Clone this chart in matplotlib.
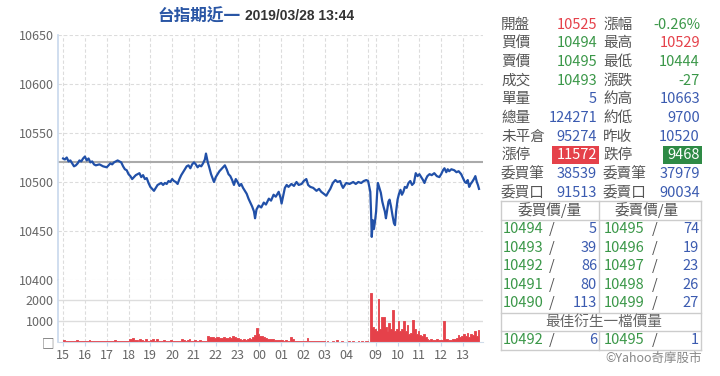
import matplotlib
matplotlib.use("Agg")
import matplotlib.pyplot as plt
from matplotlib.patches import Rectangle
from matplotlib.lines import Line2D

plt.rcParams['font.family'] = ['Noto Sans CJK TC', 'DejaVu Sans']

# ---- data ----
price_times = [
    "15:00", "15:05", "15:10", "15:15", "15:20", "15:25", "15:30", "15:35", "15:40", "15:45",
    "15:50", "15:55", "16:00", "16:05", "16:10", "16:15", "16:20", "16:25", "16:30", "16:40",
    "16:50", "17:00", "17:05", "17:10", "17:15", "17:20", "17:25", "17:30", "17:35", "17:40",
    "17:45", "17:50", "17:55", "18:00", "18:05", "18:10", "18:15", "18:20", "18:25", "18:30",
    "18:35", "18:40", "18:45", "18:50", "18:55", "19:00", "19:05", "19:10", "19:15", "19:20",
    "19:25", "19:30", "19:35", "19:40", "19:45", "19:50", "19:55", "20:00", "20:05", "20:10",
    "20:15", "20:20", "20:25", "20:30", "20:35", "20:40", "20:45", "20:50", "20:55", "21:00",
    "21:05", "21:10", "21:15", "21:20", "21:25", "21:30", "21:33", "21:38", "21:42", "21:47",
    "21:52", "21:55", "22:00", "22:05", "22:10", "22:15", "22:20", "22:25", "22:30", "22:35",
    "22:40", "22:45", "22:50", "22:55", "23:00", "23:05", "23:10", "23:15", "23:20", "23:25",
    "23:30", "23:35", "23:40", "23:45", "23:48", "23:52", "23:58", "00:05", "00:12", "00:18",
    "00:26", "00:32", "00:39", "00:45", "00:53", "00:58", "01:01", "01:06", "01:10", "01:15",
    "01:20", "01:28", "01:35", "01:42", "01:48", "01:56", "02:02", "02:09", "02:14", "02:20",
    "02:28", "02:37", "02:44", "02:50", "02:57", "03:04", "03:10", "03:15", "03:22", "03:29",
    "03:35", "03:42", "03:46", "03:50", "03:55", "03:59", "04:08", "04:18", "04:25", "04:32",
    "04:40", "04:47", "04:54", "04:59",
    "08:45", "08:47", "08:49", "08:52", "08:55", "08:58", "09:01", "09:04", "09:06", "09:10",
    "09:14", "09:18", "09:22", "09:25", "09:28", "09:31", "09:35", "09:38", "09:42", "09:46",
    "09:50", "09:53", "09:56", "10:00", "10:04", "10:08", "10:12", "10:16", "10:20", "10:25",
    "10:30", "10:35", "10:40", "10:45", "10:50", "10:55", "11:00", "11:05", "11:10", "11:14",
    "11:18", "11:22", "11:28", "11:34", "11:41", "11:48", "11:55", "12:00", "12:05", "12:09",
    "12:14", "12:18", "12:22", "12:28", "12:36", "12:42", "12:48", "12:55", "13:00", "13:05",
    "13:09", "13:13", "13:17", "13:21", "13:25", "13:30", "13:34", "13:38", "13:41", "13:44",
]
price_values = [
    10524, 10523, 10525, 10521, 10522, 10519, 10516, 10517, 10519, 10522,
    10521, 10524, 10526, 10522, 10524, 10520, 10521, 10518, 10517, 10518,
    10516, 10515, 10517, 10519, 10518, 10520, 10521, 10522, 10521, 10520,
    10516, 10513, 10512, 10508, 10506, 10503, 10505, 10507, 10508, 10509,
    10505, 10507, 10503, 10504, 10499, 10495, 10493, 10491, 10494, 10497,
    10498, 10499, 10497, 10499, 10498, 10501, 10500, 10503, 10501, 10500,
    10498, 10503, 10507, 10510, 10513, 10516, 10517, 10514, 10518, 10520,
    10518, 10515, 10517, 10516, 10519, 10523, 10529, 10520, 10515, 10508,
    10503, 10500, 10505, 10508, 10511, 10513, 10515, 10517, 10513, 10508,
    10506, 10502, 10497, 10503, 10500, 10496, 10498, 10494, 10491, 10488,
    10483, 10479, 10475, 10470, 10463, 10472, 10476, 10474, 10479, 10477,
    10483, 10481, 10487, 10485, 10490, 10484, 10478, 10487, 10494, 10497,
    10495, 10498, 10496, 10500, 10497, 10498, 10501, 10503, 10497, 10495,
    10494, 10491, 10493, 10490, 10488, 10486, 10490, 10493, 10499, 10502,
    10500, 10501, 10497, 10494, 10497, 10499, 10498, 10500, 10498, 10500,
    10499, 10501, 10502, 10501,
    10490, 10470, 10444, 10461, 10452, 10460, 10470, 10490, 10499, 10494,
    10489, 10480, 10474, 10470, 10463, 10470, 10480, 10482, 10475, 10466,
    10458, 10456, 10470, 10482, 10488, 10492, 10487, 10490, 10495, 10494,
    10499, 10501, 10497, 10499, 10509, 10506, 10508, 10505, 10502, 10499,
    10503, 10506, 10508, 10507, 10509, 10506, 10505, 10508, 10512, 10514,
    10510, 10513, 10511, 10513, 10512, 10510, 10511, 10508, 10504, 10500,
    10499, 10502, 10495, 10498, 10500, 10503, 10506, 10500, 10497, 10493,
]
prev_close = 10520

# 5-minute volume, night session 15:00-05:00
night_volume = [
    90, 60, 50, 70, 40, 60, 50, 80, 60, 50, 70, 60,
    50, 60, 90, 40, 60, 50, 40, 70, 50, 60, 40, 50,
    40, 50, 60, 40, 80, 50, 40, 60, 50, 70, 40, 60,
    120, 150, 200, 110, 90, 60, 140, 80, 60, 120, 70, 60,
    80, 150, 60, 120, 70, 50, 60, 90, 50, 70, 60, 90,
    60, 50, 70, 40, 60, 120, 90, 60, 80, 150, 70, 60,
    100, 70, 60, 80, 60, 50, 60, 280, 250, 220, 240, 200,
    260, 220, 200, 180, 230, 210, 190, 220, 200, 280, 240, 180,
    200, 150, 100, 160, 90, 120, 180, 140, 220, 350, 660, 400,
    300, 280, 220, 180, 150, 160, 130, 120, 110, 100, 90, 80,
    80, 70, 90, 60, 70, 250, 120, 60, 50, 60, 70, 50,
    50, 40, 180, 60, 40, 50, 30, 40, 50, 30, 40, 30,
    20, 30, 20, 20, 30, 20, 80, 20, 20, 30, 20, 20,
    20, 30, 20, 40, 20, 20, 30, 20, 60, 20, 30, 50,
]
# 5-minute volume, day session 08:45-13:45
day_volume = [
    2330, 700, 600,
    500, 2050, 600, 1200, 1200, 700, 500, 900, 600, 1500, 500, 600,
    1000, 500, 600, 1000, 500, 800, 400, 450, 1050, 600, 400, 500,
    350, 300, 400, 250, 150, 100, 120, 100, 90, 120, 100, 80,
    100, 1000, 150, 120, 100, 90, 150, 120, 200, 350, 250, 300,
    400, 300, 450, 250, 400, 350, 500, 300, 550,
]

night_hours = ["15", "16", "17", "18", "19", "20", "21", "22", "23", "00", "01", "02", "03", "04"]
day_hours = ["09", "10", "11", "12", "13"]

quote_rows = [
    ("開盤", "10525", "red", "漲幅", "-0.26%", "green"),
    ("買價", "10494", "green", "最高", "10529", "red"),
    ("賣價", "10495", "green", "最低", "10444", "green"),
    ("成交", "10493", "green", "漲跌", "-27", "green"),
    ("單量", "5", "blue", "約高", "10663", "blue"),
    ("總量", "124271", "blue", "約低", "9700", "blue"),
    ("未平倉", "95274", "blue", "昨收", "10520", "blue"),
    ("漲停", "11572", "redbox", "跌停", "9468", "greenbox"),
    ("委買筆", "38539", "blue", "委賣筆", "37979", "blue"),
    ("委買口", "91513", "blue", "委賣口", "90034", "blue"),
]
bid_prices = ["10494", "10493", "10492", "10491", "10490"]
bid_sizes = ["5", "39", "86", "80", "113"]
ask_prices = ["10495", "10496", "10497", "10498", "10499"]
ask_sizes = ["74", "19", "23", "26", "27"]
best_bid = ("10492", "6")
best_ask = ("10495", "1")

# ---- helpers ----
W, H = 720, 376
RED = "#e5414a"
GREEN = "#3a9748"
BLUE = "#3b5bb0"
GRAY = "#555555"
COLORS = {"red": RED, "green": GREEN, "blue": BLUE}


def fx(x):
    return x / W


def fy(y):
    return 1 - y / H


def tpos(t):
    h, m = map(int, t.split(":"))
    if 8 <= h < 15:
        return 845 + h * 60 + m - (8 * 60 + 45)
    mins = h * 60 + m - 15 * 60
    if mins < 0:
        mins += 24 * 60
    return mins


xs = [tpos(t) for t in price_times]
night_x = [i * 5 for i in range(len(night_volume))]
day_x = [845 + i * 5 for i in range(len(day_volume))]
tick_pos = [i * 60 for i in range(len(night_hours))] + [860 + i * 60 for i in range(len(day_hours))]
tick_lab = night_hours + day_hours
grid_pos = tick_pos + [840]

fig = plt.figure(figsize=(7.2, 3.76), dpi=100)

ax1 = fig.add_axes([fx(58), fy(280), 425 / W, 245 / H])
ax2 = fig.add_axes([fx(58), fy(342), 425 / W, 62 / H])

for ax in (ax1, ax2):
    ax.set_xlim(-14, 1155)
    for s in ("top", "right", "bottom"):
        ax.spines[s].set_visible(False)
    ax.spines["left"].set_color("#c8d8ec")
    ax.spines["left"].set_linewidth(1.2)
    for p in grid_pos:
        ax.axvline(p, color="#dcdcdc", lw=0.8, ls=(0, (3, 2)), zorder=0)

ax1.set_ylim(10400, 10650)
for v in range(10400, 10651, 50):
    ax1.axhline(v, color="#dcdcdc", lw=0.8, ls=(0, (3, 2)), zorder=0)
ax1.set_yticks(range(10400, 10651, 50))
ax1.set_xticks([])
ax1.tick_params(axis="y", length=0, labelsize=9, labelcolor="#666666", pad=3)
ax1.axhline(prev_close, color="#aaaaaa", lw=1.5, zorder=1)
ax1.plot(xs, price_values, color="#2150a8", lw=1.6, zorder=2)

ax2.set_ylim(0, 2950)
for v in (1000, 2000):
    ax2.axhline(v, color="#dddddd", lw=1.0, zorder=0)
for bx, bv in ((night_x, night_volume), (day_x, day_volume)):
    ax2.fill_between(bx + [bx[-1] + 5], bv + [bv[-1]], step="post", color=RED, lw=0.6,
                     edgecolor=RED, zorder=2)
ax2.spines["bottom"].set_visible(True)
ax2.spines["bottom"].set_color("#d0dcea")
ax2.set_yticks([0, 1000, 2000])
ax2.set_yticklabels(["□", "1000", "2000"])
ax2.tick_params(axis="y", length=0, labelsize=9, labelcolor="#666666", pad=3)
ax2.set_xticks(tick_pos)
ax2.set_xticklabels(tick_lab)
ax2.tick_params(axis="x", length=3, color="#c8d8ec", labelsize=9, labelcolor="#666666", pad=2)

# title
fig.text(fx(199), fy(16), "台指期近一", color="#2a56a5", fontsize=12, fontweight="bold",
         ha="center", va="center")
fig.text(fx(245), fy(16), "2019/03/28 13:44", color="#333333", fontsize=10, fontweight="bold",
         family="Liberation Sans", ha="left", va="center")

# quote panel
row_y = [25, 43, 62, 81, 99, 118, 137, 155, 174, 193]
for y, (l1, v1, c1, l2, v2, c2) in zip(row_y, quote_rows):
    fig.text(fx(501), fy(y), l1, color=GRAY, fontsize=10.5, ha="left", va="center")
    fig.text(fx(603), fy(y), l2, color=GRAY, fontsize=10.5, ha="left", va="center")
    for val, col, right, left in ((v1, c1, 597, 552), (v2, c2, 700, 663)):
        if col.endswith("box"):
            fc = RED if col == "redbox" else "#2e8a45"
            fig.patches.append(Rectangle((fx(left), fy(y + 9)), (right + 2 - left) / W, 18 / H,
                                         transform=fig.transFigure, facecolor=fc, edgecolor="none"))
            fig.text(fx(right), fy(y), val, color="white", fontsize=10.5, ha="right", va="center")
        else:
            fig.text(fx(right), fy(y), val, color=COLORS[col], fontsize=10.5, ha="right", va="center")

# order book table
def hline(y, x0=501, x1=701):
    fig.lines.append(Line2D([fx(x0), fx(x1)], [fy(y), fy(y)], transform=fig.transFigure,
                            color="#cccccc", lw=1))


def vline(x, y0, y1):
    fig.lines.append(Line2D([fx(x), fx(x)], [fy(y0), fy(y1)], transform=fig.transFigure,
                            color="#cccccc", lw=1))


for y in (201, 220, 313, 331, 350):
    hline(y)
vline(501, 201, 350)
vline(701, 201, 350)
vline(599, 201, 313)
vline(599, 331, 350)

fig.text(fx(550), fy(210), "委買價/量", color=GRAY, fontsize=10.5, ha="center", va="center")
fig.text(fx(647), fy(210), "委賣價/量", color=GRAY, fontsize=10.5, ha="center", va="center")

book_y = [229, 248, 266, 285, 303]
for y, bp, bs, ap, az in zip(book_y, bid_prices, bid_sizes, ask_prices, ask_sizes):
    fig.text(fx(503), fy(y), bp, color=GREEN, fontsize=10.5, ha="left", va="center")
    fig.text(fx(552), fy(y), "/", color=GRAY, fontsize=10.5, ha="center", va="center")
    fig.text(fx(597), fy(y), bs, color=BLUE, fontsize=10.5, ha="right", va="center")
    fig.text(fx(604), fy(y), ap, color=GREEN, fontsize=10.5, ha="left", va="center")
    fig.text(fx(655), fy(y), "/", color=GRAY, fontsize=10.5, ha="center", va="center")
    fig.text(fx(699), fy(y), az, color=BLUE, fontsize=10.5, ha="right", va="center")

fig.text(fx(604), fy(322), "最佳衍生一檔價量", color="#666666", fontsize=10.5, ha="center", va="center")
fig.text(fx(503), fy(340), best_bid[0], color=GREEN, fontsize=10.5, ha="left", va="center")
fig.text(fx(552), fy(340), "/", color=GRAY, fontsize=10.5, ha="center", va="center")
fig.text(fx(597), fy(340), best_bid[1], color=BLUE, fontsize=10.5, ha="right", va="center")
fig.text(fx(604), fy(340), best_ask[0], color=GREEN, fontsize=10.5, ha="left", va="center")
fig.text(fx(655), fy(340), "/", color=GRAY, fontsize=10.5, ha="center", va="center")
fig.text(fx(699), fy(340), best_ask[1], color=BLUE, fontsize=10.5, ha="right", va="center")

fig.text(fx(702), fy(358), "©Yahoo奇摩股市", color="#888888", fontsize=9, ha="right", va="center")

fig.savefig("out.png", dpi=100)
